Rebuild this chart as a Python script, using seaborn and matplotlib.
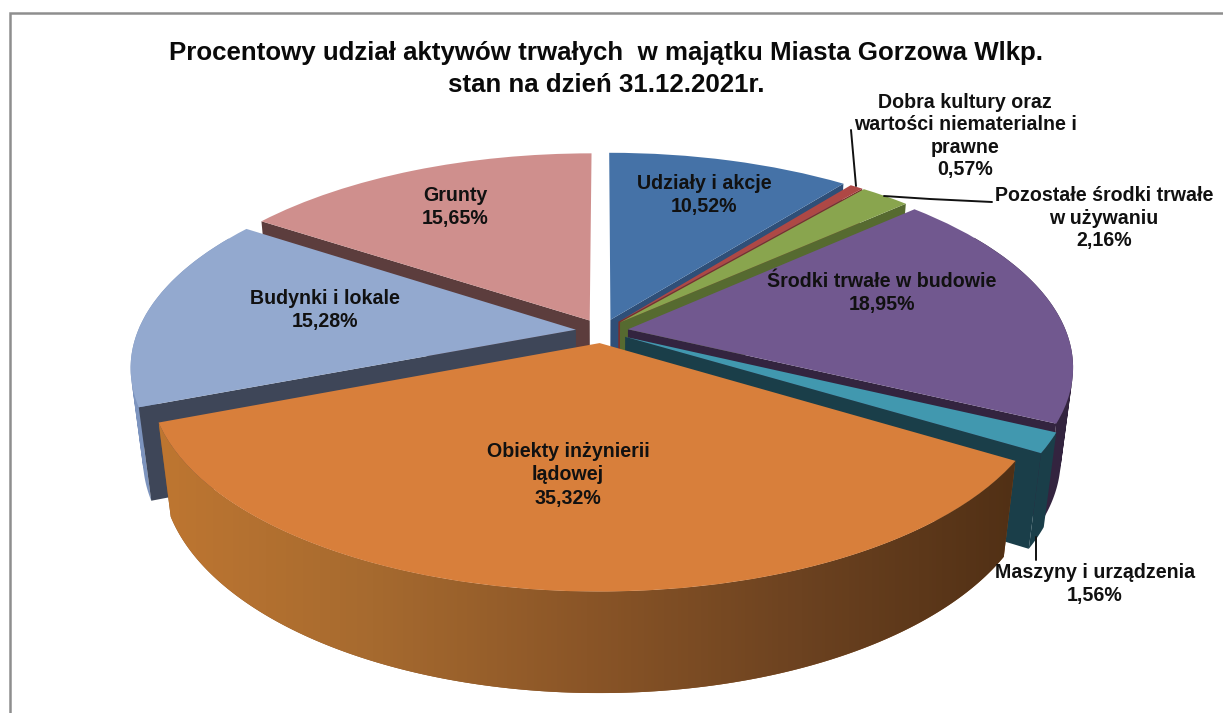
import numpy as np
import matplotlib
matplotlib.use("Agg")
import matplotlib.pyplot as plt
from matplotlib.patches import Polygon, PathPatch
from matplotlib.path import Path
from matplotlib.transforms import Transform
import seaborn as sns

categories = ["Udziały i akcje", "Dobra kultury oraz\nwartości niematerialne i\nprawne",
              "Pozostałe środki trwałe\nw używaniu", "Środki trwałe w budowie",
              "Maszyny i urządzenia", "Obiekty inżynierii\nlądowej", "Budynki i lokale", "Grunty"]
values = [10.52, 0.57, 2.16, 18.95, 1.56, 35.32, 15.28, 15.65]
top_colors = ["#4572A7", "#AE4845", "#89A54E", "#71588F", "#4198AF", "#D87F3B", "#93A9CF", "#CF8F8D"]
radial_colors = ["#2F4F78", "#7A2F2D", "#566A30", "#33243F", "#1A3E49", "#54321A", "#3E4658", "#5C3D3D"]
rim_colors = ["#2F4F78", "#7A2F2D", "#566A30", "#33243F", "#1A3E49", "#8A5527", "#7D94BE", "#5C3D3D"]
draw_order = [0, 1, 2, 7, 6, 3, 4, 5]
title = "Procentowy udział aktywów trwałych  w majątku Miasta Gorzowa Wlkp.\nstan na dzień 31.12.2021r."

sns.set_theme(style="white")
plt.rcParams["font.family"] = ["Liberation Sans", "DejaVu Sans"]

CX, CY, A, B, H, P, Q = 602.0, 331.0, 438.0, 200.0, 92.0, 0.176, 0.026


def project(x, y, z=0.0):
    w = 1 + P * y + Q * z
    return CX + A * x / w, CY - (B * y - H * z) / w


class PieProjection(Transform):
    input_dims = output_dims = 2
    is_separable = False
    has_inverse = False

    def transform_non_affine(self, values):
        px, py = project(values[:, 0], values[:, 1])
        return np.column_stack([px, py])


def rim_path(tx, ty, bx, by, keep):
    """Union of the small quads between the top and bottom arcs, same winding throughout."""
    parts = []
    for k in range(len(tx) - 1):
        if not (keep[k] and keep[k + 1]):
            continue
        q = np.array([[tx[k], ty[k]], [tx[k + 1], ty[k + 1]], [bx[k + 1], by[k + 1]], [bx[k], by[k]], [tx[k], ty[k]]])
        area = np.sum(q[:-1, 0] * q[1:, 1] - q[1:, 0] * q[:-1, 1])
        if area < 0:
            q = q[::-1]
        parts.append(Path(q, closed=True))
    return Path.make_compound_path(*parts) if parts else None


fig = plt.figure(figsize=(12.23, 7.13), dpi=100)
ax = fig.add_axes([0, 0, 1, 1])
wedges, _ = ax.pie(values, startangle=90, counterclock=False, explode=[0.06] * len(values),
                   colors=top_colors, wedgeprops={"linewidth": 0})
ax.set_aspect("auto")
ax.set_xlim(0, 1223)
ax.set_ylim(713, 0)
ax.autoscale(False)

proj = PieProjection() + ax.transData
shade = sns.blend_palette(["#BE7631", "#A66A2F", "#8A5527", "#6C4220", "#513015"], as_cmap=True)

for rank, i in enumerate(draw_order):
    w = wedges[i]
    cx0, cy0 = w.center
    t = np.radians(np.linspace(w.theta1, w.theta2, 200))
    ax0, ay0 = cx0 + w.r * np.cos(t), cy0 + w.r * np.sin(t)
    base = rank * 10 + 2
    # rim wall (only the part turned towards the viewer)
    tx, ty = project(ax0, ay0, 0.0)
    bx, by = project(ax0, ay0, 1.0)
    path = rim_path(tx, ty, bx, by, np.sin(t) < 0.5)
    if path is not None:
        patch = PathPatch(path, fc=rim_colors[i], ec="none", zorder=base)
        ax.add_patch(patch)
        if i == 5:
            ext = path.get_extents()
            im = ax.imshow(np.linspace(0, 1, 256)[None, :], cmap=shade, aspect="auto", zorder=base + 1,
                           extent=(ext.x0, ext.x1, ext.y1, ext.y0))
            im.set_clip_path(patch)
    # radial walls that face the viewer
    edges = ((ax0[0], ay0[0], -np.cos(t[0])), (ax0[-1], ay0[-1], np.cos(t[-1])))
    for ex, ey, normal_y in edges:
        if normal_y < -0.01:
            qx = np.array([cx0, ex, ex, cx0])
            qy = np.array([cy0, ey, ey, cy0])
            qz = np.array([0.0, 0.0, 1.0, 1.0])
            sx, sy = project(qx, qy, qz)
            ax.add_patch(Polygon(np.column_stack([sx, sy]), closed=True, fc=radial_colors[i],
                                 ec="none", zorder=base + 2))
    w.set_transform(proj)
    w.set_zorder(base + 3)

ax.set_xlim(0, 1223)
ax.set_ylim(713, 0)

# frame of the original screenshot
ax.plot([10, 10, 1223], [713, 13, 13], color="#8E8E8E", lw=1.8, zorder=1, solid_joinstyle="miter")

# leader lines
for xs, ys in (([851, 856], [130, 186]), ([884, 930, 992], [196, 199, 202]), ([1036, 1036], [537, 560])):
    ax.plot(xs, ys, color="#111111", lw=1.4, zorder=200)

ax.text(606, 69, title, ha="center", va="center", fontsize=18.6, fontweight="bold",
        color="#0A0A0A", linespacing=1.37, zorder=200)

label_pos = [(704, 195), (965, 136), (1104, 218), (882, 293), (1095, 584), (568, 475), (325, 310), (455, 207)]
label_spacing = [1.3, 1.22, 1.25, 1.3, 1.3, 1.3, 1.3, 1.3]
for name, val, (lx, ly), ls in zip(categories, values, label_pos, label_spacing):
    txt = f"{name}\n{val:.2f}%".replace(".", ",")
    ax.text(lx, ly, txt, ha="center", va="center", fontsize=14.1, fontweight="bold",
            color="#111111", linespacing=ls, zorder=200)

ax.set_axis_off()
fig.savefig("out.png", dpi=100, facecolor="white")
